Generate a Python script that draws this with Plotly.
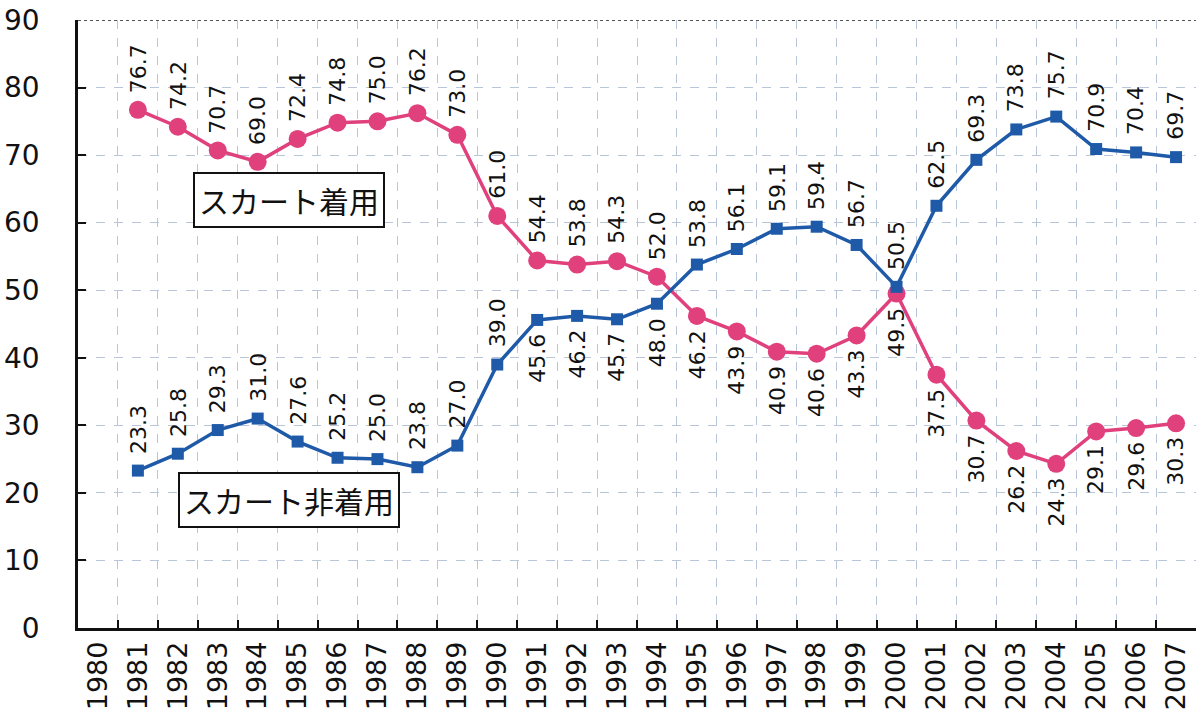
import plotly.graph_objects as go

# Survey years shown on the axis (1980 has no data)
axis_years = [str(y) for y in range(1980, 2008)]
years = [str(y) for y in range(1981, 2008)]

# Share (%) wearing skirts
skirt_wear = [76.7, 74.2, 70.7, 69.0, 72.4, 74.8, 75.0, 76.2, 73.0, 61.0,
              54.4, 53.8, 54.3, 52.0, 46.2, 43.9, 40.9, 40.6, 43.3, 49.5,
              37.5, 30.7, 26.2, 24.3, 29.1, 29.6, 30.3]

# Share (%) not wearing skirts
skirt_none = [23.3, 25.8, 29.3, 31.0, 27.6, 25.2, 25.0, 23.8, 27.0, 39.0,
              45.6, 46.2, 45.7, 48.0, 53.8, 56.1, 59.1, 59.4, 56.7, 50.5,
              62.5, 69.3, 73.8, 75.7, 70.9, 70.4, 69.7]

y_ticks = [0, 10, 20, 30, 40, 50, 60, 70, 80, 90]

PINK = "#E0407C"
BLUE = "#1F5AA8"
NUM_FONT = "DejaVu Sans, Liberation Sans, Arial, sans-serif"
JP_FONT = "Noto Sans CJK JP, sans-serif"

fig = go.Figure()

fig.add_trace(go.Scatter(
    x=years, y=skirt_wear, mode="lines+markers", name="スカート着用",
    line=dict(color=PINK, width=3.5),
    marker=dict(symbol="circle", size=18, color=PINK),
))
fig.add_trace(go.Scatter(
    x=years, y=skirt_none, mode="lines+markers", name="スカート非着用",
    line=dict(color=BLUE, width=3.5),
    marker=dict(symbol="square", size=12, color=BLUE),
))

# Rotated value labels: the higher series gets its labels above the point,
# the lower one below (early non-wearing values stay above the line).
# Annotations on a category axis are placed by category index.
annotations = []
for yr, w, n in zip(years, skirt_wear, skirt_none):
    idx = axis_years.index(yr)
    pairs = [
        (w, w > n),
        (n, n > w or int(yr) <= 1990),
    ]
    for val, above in pairs:
        annotations.append(dict(
            x=idx, y=val, xref="x", yref="y",
            text=f"{val:.1f}", showarrow=False, textangle=-90,
            xanchor="center", yanchor="bottom" if above else "top",
            yshift=15 if above else -12,
            font=dict(family=NUM_FONT, size=22, color="#111111"),
        ))

# Series captions in boxes
for label, y in [("スカート着用", 63.4), ("スカート非着用", 18.9)]:
    annotations.append(dict(
        x=0.189, y=y, xref="paper", yref="y", text=label, showarrow=False,
        xanchor="center", yanchor="middle",
        font=dict(family=JP_FONT, size=30, color="#111111"),
        bgcolor="white", bordercolor="#111111", borderwidth=2, borderpad=4,
    ))

fig.update_layout(
    width=1196, height=716,
    margin=dict(l=78, r=0, t=20, b=88),
    paper_bgcolor="white", plot_bgcolor="white",
    showlegend=False,
    annotations=annotations,
    shapes=[dict(type="line", xref="paper", yref="y", x0=0, x1=1, y0=90, y1=90,
                 line=dict(color="#555555", width=2, dash="dot"))],
)

fig.update_xaxes(
    type="category", categoryorder="array", categoryarray=axis_years,
    range=[-0.5, 27.5], tickvals=axis_years, ticktext=axis_years,
    tickson="boundaries", ticks="inside", ticklen=8, tickwidth=2, tickcolor="#111111",
    tickangle=-90, tickfont=dict(family=NUM_FONT, size=27, color="#111111"),
    showline=True, linecolor="#111111", linewidth=2.5,
    showgrid=True, gridcolor="#B9C6DA", griddash="dash", gridwidth=1,
    zeroline=False,
)
fig.update_yaxes(
    range=[0, 90], tickvals=y_ticks, ticktext=[str(v) for v in y_ticks],
    ticks="inside", ticklen=8, tickwidth=2, tickcolor="#111111",
    tickfont=dict(family=NUM_FONT, size=28, color="#111111"),
    ticklabelstandoff=30,
    showline=True, linecolor="#111111", linewidth=2.5,
    showgrid=True, gridcolor="#B9C6DA", griddash="dash", gridwidth=1,
    zeroline=False,
)

fig.write_html("out.html")
